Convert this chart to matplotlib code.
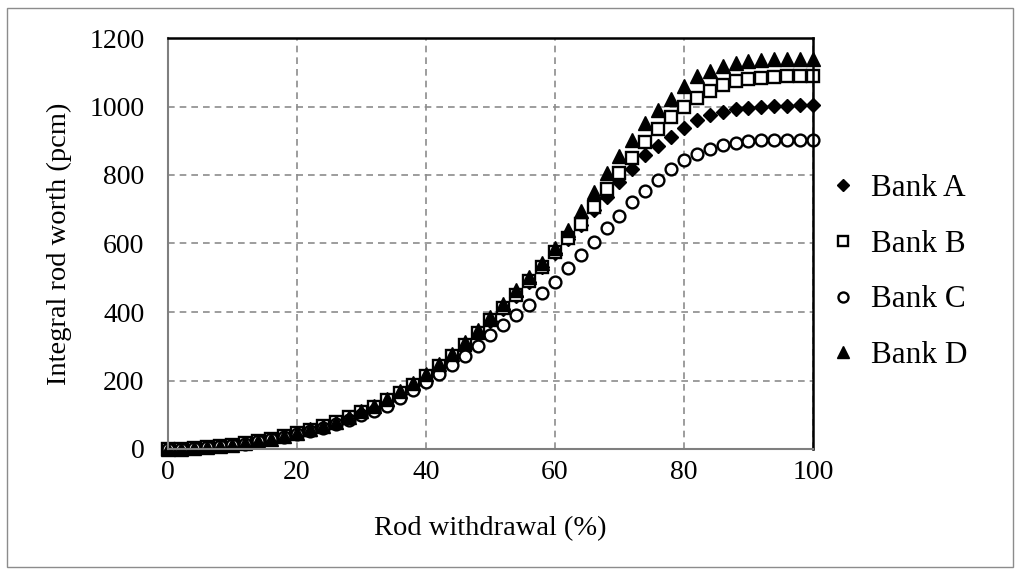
import matplotlib
matplotlib.use("Agg")
import matplotlib.pyplot as plt
from matplotlib.patches import Rectangle

withdrawal = list(range(0, 101, 2))

bank_a = [0, 1, 3, 5, 8, 12, 17, 23, 30, 37, 46, 56, 67, 79, 92, 107, 123, 141, 162, 186,
          212, 240, 270, 302, 337, 373, 410, 448, 488, 530, 572, 613, 654, 698, 737, 780,
          817, 857, 885, 910, 938, 960, 975, 985, 992, 996, 999, 1001, 1002, 1003, 1004]
bank_b = [0, 1, 3, 5, 8, 12, 17, 23, 30, 37, 46, 56, 67, 79, 93, 108, 124, 143, 164, 188,
          214, 242, 272, 305, 340, 376, 413, 451, 490, 532, 574, 615, 657, 707, 759, 806,
          850, 897, 934, 969, 998, 1026, 1046, 1063, 1075, 1080, 1084, 1087, 1088, 1089, 1090]
bank_c = [0, 1, 3, 5, 8, 12, 16, 22, 28, 35, 43, 52, 62, 73, 85, 98, 112, 127, 150, 173,
          196, 219, 246, 272, 300, 333, 362, 391, 420, 456, 488, 528, 566, 604, 645, 680,
          721, 754, 785, 817, 844, 861, 876, 888, 893, 900, 902, 903, 903, 903, 903]
bank_d = [0, 1, 3, 5, 8, 12, 17, 23, 30, 38, 47, 57, 68, 80, 94, 110, 127, 146, 168, 192,
          218, 247, 278, 311, 347, 384, 423, 463, 502, 542, 588, 640, 695, 750, 805, 856,
          902, 953, 990, 1021, 1060, 1090, 1105, 1119, 1128, 1134, 1137, 1139, 1140, 1140, 1140]

labels = ["Bank A", "Bank B", "Bank C", "Bank D"]
x_ticks = [0, 20, 40, 60, 80, 100]
y_ticks = [0, 200, 400, 600, 800, 1000, 1200]

plt.rcParams['font.family'] = ['Liberation Serif', 'DejaVu Serif']

fig = plt.figure(figsize=(10.2, 5.74), dpi=100)
ax = fig.add_axes([168/1020, 1 - 449/574, (813-168)/1020, (449-38)/574])

ax.plot(withdrawal, bank_a, linestyle='none', marker='D', ms=7, color='black', label=labels[0])
ax.plot(withdrawal, bank_b, linestyle='none', marker='s', ms=8, mfc='white', mec='black', mew=1.7, label=labels[1])
ax.plot(withdrawal, bank_c, linestyle='none', marker='o', ms=8.5, mfc='white', mec='black', mew=1.7, label=labels[2])
ax.plot(withdrawal, bank_d, linestyle='none', marker='^', ms=9.5, color='black', label=labels[3])

ax.set_xlim(0, 100)
ax.set_ylim(0, 1200)
ax.set_xticks(x_ticks)
ax.set_yticks(y_ticks)
ax.tick_params(length=0, labelsize=20)
ax.tick_params(axis='y', pad=17)
ax.tick_params(axis='x', pad=8)
ax.grid(True, linestyle=(0, (4, 3)), color='#8c8c8c', linewidth=1.2)
ax.set_axisbelow(True)
for s in ['top', 'right']:
    ax.spines[s].set_color('black')
    ax.spines[s].set_linewidth(1.8)
for s in ['left', 'bottom']:
    ax.spines[s].set_color('#7f7f7f')
    ax.spines[s].set_linewidth(1.5)
for line in ax.lines:
    line.set_clip_on(False)

ax.set_xlabel("Rod withdrawal (%)", fontsize=20.5, labelpad=22)
ax.set_ylabel("Integral rod worth (pcm)", fontsize=20.5, labelpad=12)

fig.legend(loc='center left', bbox_to_anchor=(827/1020, 1 - 272/574), frameon=False,
           fontsize=22.5, labelspacing=0.86, handlelength=1.0, handletextpad=0.42,
           borderaxespad=0, borderpad=0, markerscale=0.85)

fig.patches.append(Rectangle((7/1020, 1 - 567/574), 1006/1020, 559/574, transform=fig.transFigure,
                             fill=False, edgecolor='#8c8c8c', linewidth=1.0))

fig.savefig("out.png", dpi=100)
